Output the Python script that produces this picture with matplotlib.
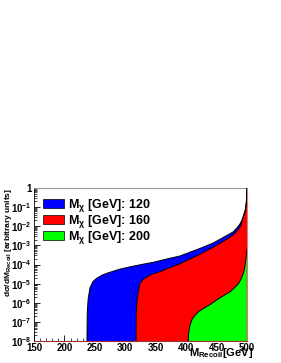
#!/usr/bin/env python3

import matplotlib
matplotlib.use("Agg")
import matplotlib.pyplot as plt
import matplotlib.patches as mpatches
from matplotlib.ticker import LogLocator, MultipleLocator, FixedLocator, FuncFormatter
import numpy as np

# recoil mass (GeV) and dsigma/dM (arbitrary units)
m120_x = [237.0, 237.5, 239.0, 242.0, 247.0, 253.0, 262.0, 270.0, 290.0, 308.0, 330.0,
          346.0, 370.0, 390.0, 423.0, 444.0, 466.0, 477.0, 483.0, 488.0, 491.5, 494.0,
          497.0, 499.0, 499.7, 500.0]
m120_y = [1e-8, 3e-7, 1.6e-6, 6e-6, 1.3e-5, 1.9e-5, 2.8e-5, 3.5e-5, 5.6e-5, 7.6e-5, 1.05e-4,
          1.3e-4, 2e-4, 2.8e-4, 7e-4, 1.3e-3, 3.2e-3, 5e-3, 7.9e-3, 1.25e-2, 2e-2, 3.5e-2,
          7e-2, 0.2, 0.8, 1.0]

m160_x = [317.6, 318.0, 319.5, 322.0, 324.0, 329.0, 335.0, 345.0, 357.0, 370.0, 390.0,
          423.0, 444.0, 466.0, 477.0, 485.0, 490.0, 494.0, 497.0, 499.0, 499.7, 500.0]
m160_y = [1e-8, 3e-7, 1.6e-6, 5e-6, 1e-5, 1.6e-5, 2.2e-5, 3.2e-5, 4.2e-5, 6.3e-5, 1.1e-4,
          3.5e-4, 7.9e-4, 2e-3, 3.5e-3, 6.3e-3, 1.1e-2, 3.2e-2, 5.6e-2, 0.16, 0.7, 1.0]

m200_x = [403.6, 404.0, 406.3, 410.0, 414.6, 420.0, 428.3, 440.0, 450.0, 460.0, 472.0,
          480.0, 486.0, 490.0, 494.0, 496.0, 498.0, 499.3, 499.7]
m200_y = [1e-8, 2.5e-8, 6.8e-8, 1.4e-7, 2.2e-7, 3.3e-7, 5e-7, 8.3e-7, 1.4e-6, 2.2e-6, 3.7e-6,
          6.3e-6, 1e-5, 1.66e-5, 3.4e-5, 6.3e-5, 1.7e-4, 4e-4, 6.3e-4]

series = [
    (m120_x, m120_y, "#0000ff", "120"),
    (m160_x, m160_y, "#ff0000", "160"),
    (m200_x, m200_y, "#00ff00", "200"),
]

x_ticks = [150, 200, 250, 300, 350, 400, 450, 500]
y_ticks = [1e-8, 1e-7, 1e-6, 1e-5, 1e-4, 1e-3, 1e-2, 1e-1, 1]

plt.rcParams["font.family"] = ["Liberation Sans", "DejaVu Sans"]
plt.rcParams["font.weight"] = "bold"
plt.rcParams["mathtext.fontset"] = "custom"
plt.rcParams["mathtext.rm"] = "Liberation Sans:bold"
plt.rcParams["mathtext.it"] = "Liberation Sans:bold"
plt.rcParams["mathtext.bf"] = "Liberation Sans:bold"
plt.rcParams["mathtext.sf"] = "Liberation Sans:bold"


def ylab(v, pos):
    e = int(round(np.log10(v)))
    if e == 0:
        return "1"
    return r"$\mathregular{10^{%d}}$" % e


fig = plt.figure(figsize=(2.81, 3.63), dpi=100)
ax = fig.add_axes([34 / 281, 22 / 363, 213 / 281, 153 / 363])

ax.set_xlim(150, 500)
ax.set_ylim(1e-8, 1)
ax.set_yscale("log")

for xs, ys, col, lab in series:
    ax.fill_between(xs, 1e-8, ys, facecolor=col, edgecolor="none", zorder=2)
    ax.plot(xs, ys, color="black", lw=0.7, zorder=3)

ax.xaxis.set_major_locator(FixedLocator(x_ticks))
ax.xaxis.set_minor_locator(MultipleLocator(10))
ax.yaxis.set_major_locator(FixedLocator(y_ticks))
ax.yaxis.set_minor_locator(LogLocator(base=10, subs=np.arange(2, 10), numticks=20))
ax.yaxis.set_major_formatter(FuncFormatter(ylab))
ax.yaxis.set_minor_formatter(FuncFormatter(lambda v, p: ""))

ax.tick_params(which="both", direction="in", top=False, right=False, labelsize=7, pad=1.5)
ax.tick_params(which="major", length=4, width=0.6)
ax.tick_params(which="minor", length=2, width=0.5)

for s in ["top", "right"]:
    ax.spines[s].set_color("#999999")
    ax.spines[s].set_linewidth(0.8)
ax.spines["right"].set_color("#d08080")
ax.spines["bottom"].set_color("#a03030")
ax.spines["left"].set_linewidth(0.6)

ax.text(1.03, -0.035, r"M$_{\mathregular{Recoil}}$[GeV]", transform=ax.transAxes,
        ha="right", va="top", fontsize=8, fontweight="bold")
ax.text(-0.12, 1.0, r"d$\sigma$/dM$_{\mathregular{Recoil}}$ [arbitrary units]",
        transform=ax.transAxes, rotation=90, ha="center", va="top",
        fontsize=6, fontweight="bold")

handles = [mpatches.Patch(facecolor=col, edgecolor="black", linewidth=0.5,
                          label=r"M$_{\chi}$ [GeV]: " + lab)
           for _, _, col, lab in series]
ax.legend(handles=handles, loc="upper left", bbox_to_anchor=(0.04, 0.94),
          frameon=False, borderpad=0, borderaxespad=0,
          handlelength=1.7, handleheight=0.75, handletextpad=0.35, labelspacing=-0.1,
          prop={"weight": "bold", "size": 9})

fig.savefig("out.png", dpi=100, facecolor="white")
